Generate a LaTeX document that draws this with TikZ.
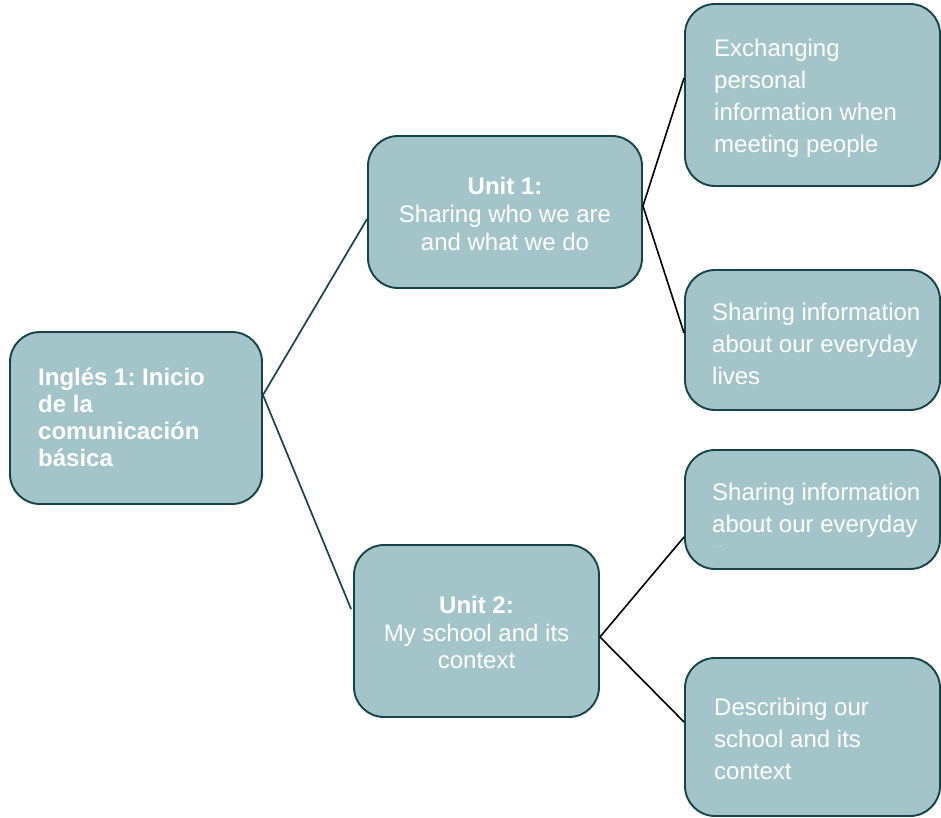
\documentclass[tikz,border=0pt]{standalone}
\usepackage{fontspec}
\setmainfont{Liberation Sans}
\usetikzlibrary{calc}
\definecolor{boxfill}{HTML}{A3C4C8}
\definecolor{boxline}{HTML}{17434A}
\tikzset{
  box/.style={draw=boxline, line width=1.9pt, fill=boxfill, rounded corners=30pt, inner sep=0pt},
  txt/.style={text=white, inner sep=0pt, font=\fontsize{24}{32}\selectfont},
  txtl/.style={txt, align=left, anchor=north west},
  tealcon/.style={draw=boxline, line width=1.7pt},
  blackcon/.style={draw=black, line width=1.6pt},
}
\frenchspacing
\begin{document}
\begin{tikzpicture}[x=1pt,y=-1pt]
\useasboundingbox (0,0) rectangle (941,818);
% boxes
\node[box, minimum width=252pt, minimum height=172pt] (root) at (136,418) {};
\node[box, minimum width=274pt, minimum height=152pt] (u1) at (505,212) {};
\node[box, minimum width=245pt, minimum height=172pt] (u2) at (476.5,631) {};
\node[box, minimum width=255pt, minimum height=182pt] (a) at (812.5,95) {};
\node[box, minimum width=255pt, minimum height=140pt] (b) at (812.5,340) {};
\node[box, minimum width=255pt, minimum height=119pt] (c) at (812.5,509.5) {};
\node[box, minimum width=255pt, minimum height=158pt] (d) at (812.5,737) {};
% connectors
\draw[tealcon] ([yshift=23pt]root.east) -- ([yshift=-7pt]u1.west);
\draw[tealcon] ([yshift=23pt]root.east) -- ([xshift=-2pt,yshift=22pt]u2.west);
\draw[blackcon] ([yshift=6pt]u1.east) -- ([yshift=17pt]a.west);
\draw[blackcon] ([yshift=6pt]u1.east) -- ([yshift=7pt]b.west);
\draw[blackcon] ([yshift=-6pt]u2.east) -- ([yshift=-27.5pt]c.west);
\draw[blackcon] ([yshift=-6pt]u2.east) -- ([yshift=15pt]d.west);
% texts
\node[txt, font=\fontsize{24}{27}\selectfont\bfseries, align=left, anchor=north west] (troot) at (38,368) {Inglés 1: Inicio\\de la\\comunicación\\básica};
\node[txt, font=\fontsize{24}{28}\selectfont, align=center, anchor=north] (tu1) at (505,177) {\textbf{Unit 1:}\\Sharing who we are\\and what we do};
\node[txt, font=\fontsize{24}{27.5}\selectfont, align=center, anchor=north] (tu2) at (476.5,596) {\textbf{Unit 2:}\\My school and its\\context};
\node[txtl] (ta) at (714,39) {Exchanging\\personal\\information when\\meeting people};
\node[txtl] (tb) at (712,302.5) {Sharing information\\about our everyday\\lives};
\begin{scope}
\clip (685,440) rectangle (941,546);
\node[txtl] (tc) at (712,483) {Sharing information\\about our everyday\\lives};
\end{scope}
\node[txtl] (td) at (714,697.5) {Describing our\\school and its\\context};
\end{tikzpicture}
\end{document}
